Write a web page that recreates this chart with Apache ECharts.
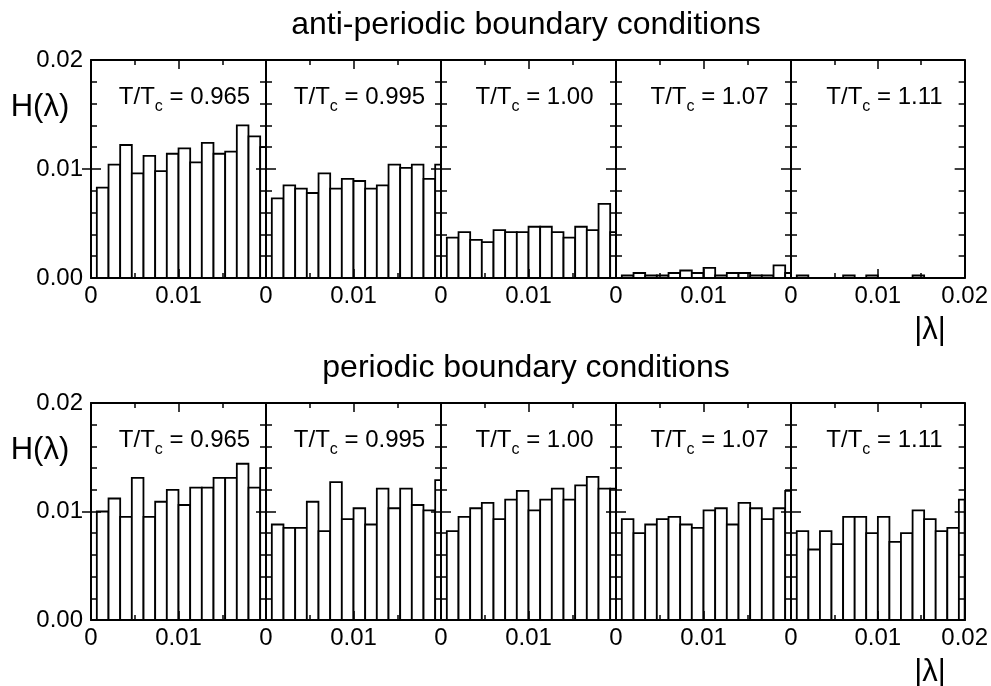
<!DOCTYPE html>
<html>
<head>
    <meta charset="utf-8">
    <script type="text/javascript" src="https://cdn.jsdelivr.net/npm/echarts/dist/echarts.min.js"></script>
    <title>H(lambda) histograms</title>
    <style>
        body { margin: 0; background: #fff; }
    </style>
</head>
<body>
    <div id="main" style="width:991px;height:686px;"></div>
    <script type="text/javascript">
    // bin centres of the |lambda| histogram (bin width 0.00133)
    var binCenters = [0.00133, 0.00267, 0.004, 0.00533, 0.00667, 0.008, 0.00933, 0.01067,
                      0.012, 0.01333, 0.01467, 0.016, 0.01733, 0.01867, 0.02];
    var binWidth = 0.00133;
    var temperatures = ['0.965', '0.995', '1.00', '1.07', '1.11'];

    // anti-periodic boundary conditions, one array per T/Tc
    var apbc0965 = [0.0083, 0.0104, 0.0122, 0.0096, 0.0112, 0.0098, 0.0114, 0.0119, 0.0106, 0.0124, 0.0114, 0.0116, 0.0140, 0.0130, 0.0120];
    var apbc0995 = [0.0073, 0.0085, 0.0082, 0.0078, 0.0096, 0.0082, 0.0091, 0.0089, 0.0082, 0.0085, 0.0104, 0.0101, 0.0104, 0.0091, 0.0104];
    var apbc100  = [0.0037, 0.0042, 0.0035, 0.0033, 0.0044, 0.0042, 0.0042, 0.0047, 0.0047, 0.0042, 0.0037, 0.0047, 0.0044, 0.0068, 0.0042];
    var apbc107  = [0.00023, 0.00046, 0.00023, 0.00023, 0.00046, 0.00069, 0.00046, 0.00092, 0.00023, 0.00046, 0.00046, 0.00023, 0.00023, 0.00115, 0.00046];
    var apbc111  = [0.00023, 0, 0, 0, 0.00023, 0, 0.00023, 0, 0, 0, 0.00023, 0, 0, 0, 0];

    // periodic boundary conditions
    var pbc0965 = [0.0100, 0.0112, 0.0095, 0.0131, 0.0095, 0.0109, 0.0120, 0.0106, 0.0122, 0.0122, 0.0131, 0.0131, 0.0144, 0.0122, 0.0140];
    var pbc0995 = [0.0088, 0.0085, 0.0085, 0.0109, 0.0082, 0.0127, 0.0093, 0.0103, 0.0088, 0.0121, 0.0103, 0.0121, 0.0106, 0.0101, 0.0129];
    var pbc100  = [0.0082, 0.0095, 0.0103, 0.0108, 0.0093, 0.0111, 0.0119, 0.0101, 0.0111, 0.0121, 0.0111, 0.0124, 0.0132, 0.0121, 0.0121];
    var pbc107  = [0.0093, 0.0080, 0.0088, 0.0093, 0.0095, 0.0088, 0.0085, 0.0101, 0.0103, 0.0088, 0.0108, 0.0103, 0.0093, 0.0103, 0.0119];
    var pbc111  = [0.0082, 0.0065, 0.0082, 0.0070, 0.0095, 0.0095, 0.0080, 0.0095, 0.0072, 0.0080, 0.0101, 0.0093, 0.0082, 0.0085, 0.0111];

    var rows = [
        { title: 'anti-periodic boundary conditions', top: 60, height: 218,
          panels: [apbc0965, apbc0995, apbc100, apbc107, apbc111] },
        { title: 'periodic boundary conditions', top: 403, height: 217,
          panels: [pbc0965, pbc0995, pbc100, pbc107, pbc111] }
    ];

    var FONT = '"Liberation Sans", Arial, sans-serif';
    var colLeft = 91, colWidth = 175;

    var myChart = echarts.init(document.getElementById('main'));

    function fmtX(v) { return v === 0 ? '0' : v.toFixed(2); }
    function fmtY(v) { return v.toFixed(2); }

    function xAxis(gi, pos, labels, lastCol) {
        return {
            type: 'value', gridIndex: gi, position: pos,
            min: 0, max: 0.02, interval: 0.01, z: 5,
            axisLine: { show: true, onZero: false, lineStyle: { color: '#000', width: 2 } },
            axisTick: { show: true, inside: true, length: 9, lineStyle: { color: '#000', width: 1.5 } },
            minorTick: { show: true, splitNumber: 2, length: 5, lineStyle: { color: '#000', width: 1.5 } },
            splitLine: { show: false },
            axisLabel: { show: labels, margin: 6, color: '#000', fontSize: 24, fontFamily: FONT,
                         showMinLabel: true, showMaxLabel: lastCol, formatter: fmtX }
        };
    }

    function yAxis(gi, pos, labels) {
        return {
            type: 'value', gridIndex: gi, position: pos,
            min: 0, max: 0.02, interval: 0.01, z: 5,
            axisLine: { show: true, onZero: false, lineStyle: { color: '#000', width: 2 } },
            axisTick: { show: true, inside: true, length: 10, lineStyle: { color: '#000', width: 1.5 } },
            minorTick: { show: true, splitNumber: 5, length: 6, lineStyle: { color: '#000', width: 1.5 } },
            splitLine: { show: false },
            axisLabel: { show: labels, margin: 8, color: '#000', fontSize: 24, fontFamily: FONT, formatter: fmtY }
        };
    }

    // outer left axis: the 0.01 tick also sticks out to the left
    function outerTickAxis(gi) {
        return {
            type: 'value', gridIndex: gi, position: 'left',
            min: 0, max: 0.02, interval: 0.01, z: 5,
            axisLine: { show: false },
            axisTick: { show: true, inside: false, length: 9, customValues: [0.01],
                        lineStyle: { color: '#000', width: 1.5 } },
            splitLine: { show: false },
            axisLabel: { show: false }
        };
    }

    // draws one histogram bar as a box from the axis up to the value
    function renderBar(params, api) {
        var x = api.value(0), y = api.value(1);
        if (!(y > 0)) return null;
        var p0 = api.coord([x - binWidth / 2, y]);
        var p1 = api.coord([x + binWidth / 2, 0]);
        var cs = params.coordSys;
        var shape = echarts.graphic.clipRectByRect(
            { x: p0[0], y: p0[1], width: p1[0] - p0[0], height: p1[1] - p0[1] },
            { x: cs.x, y: cs.y, width: cs.width, height: cs.height });
        if (!shape) return null;
        return { type: 'rect', shape: shape,
                 style: { fill: '#fff', stroke: '#000', lineWidth: 1.8 } };
    }

    function label(text, x, y, size) {
        return { type: 'text', x: x, y: y,
            style: { text: text, fontSize: size, fontFamily: FONT, fill: '#000',
                     align: 'center', verticalAlign: 'middle',
                     textAlign: 'center', textVerticalAlign: 'middle' } };
    }

    var grids = [], xAxes = [], yAxes = [], series = [], graphics = [];

    rows.forEach(function (row, r) {
        graphics.push(label(row.title, 526, row.top - 35, 32));
        graphics.push(label('H(λ)', 40, row.top + 47, 31));
        graphics.push(label('|λ|', 930, row.top + row.height + 52, 31));

        row.panels.forEach(function (vals, c) {
            var gi = grids.length;
            var left = colLeft + c * colWidth;
            grids.push({ left: left, top: row.top, width: colWidth, height: row.height });
            xAxes.push(xAxis(gi, 'bottom', true, c === 4));
            xAxes.push(xAxis(gi, 'top', false, false));
            var yi = yAxes.length;
            yAxes.push(yAxis(gi, 'left', c === 0));
            yAxes.push(yAxis(gi, 'right', false));
            if (c === 0) yAxes.push(outerTickAxis(gi));
            series.push({
                type: 'custom', xAxisIndex: 2 * gi, yAxisIndex: yi, silent: true,
                renderItem: renderBar,
                data: binCenters.map(function (b, k) { return [b, vals[k]]; })
            });
            var t = label('T/T{s|c} = ' + temperatures[c], left + colWidth / 2 + 6, row.top + 37, 24);
            t.style.rich = { s: { fontSize: 16, fontFamily: FONT, fill: '#000', padding: [20, 0, 0, 0] } };
            graphics.push(t);
        });
    });

    var option = {
        animation: false,
        backgroundColor: '#fff',
        grid: grids,
        xAxis: xAxes,
        yAxis: yAxes,
        series: series,
        graphic: graphics
    };

    myChart.setOption(option);
    </script>
</body>
</html>
